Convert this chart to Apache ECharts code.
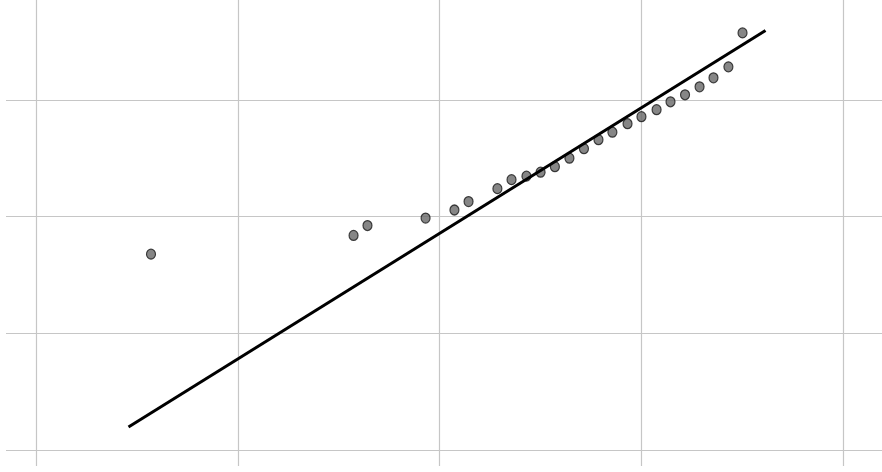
<!DOCTYPE html>
<html>
<head>
<meta charset="utf-8">
<script src="https://cdn.jsdelivr.net/npm/echarts@6/dist/echarts.min.js"></script>
<style>
  html, body { margin: 0; padding: 0; background: #fff; }
  #chart { width: 882px; height: 472px; }
</style>
</head>
<body>
<div id="chart"></div>
<script>
// Theoretical quantiles (x) and sample quantiles (y) for the probability plot
const theoretical = [-1.43, -0.426, -0.357, -0.069, 0.074, 0.144, 0.287, 0.357, 0.431, 0.501,
  0.572, 0.644, 0.716, 0.788, 0.857, 0.932, 1.001, 1.076, 1.145, 1.217, 1.289, 1.358, 1.432, 1.502];
const sample = [-0.322, -0.162, -0.077, -0.013, 0.056, 0.128, 0.239, 0.316, 0.346, 0.380,
  0.427, 0.500, 0.581, 0.658, 0.722, 0.795, 0.855, 0.915, 0.983, 1.043, 1.111, 1.188, 1.282, 1.573];

// Reference fit line endpoints
const fitX = [-1.5415, 1.616];
const fitY = [-1.803, 1.594];

// Visible axis window
const xRange = [-2.1487, 2.1933];
const yRange = [-2.1368, 1.8547];

const points = theoretical.map((x, i) => [x, sample[i]]);
const fitLine = fitX.map((x, i) => [x, fitY[i]]);

const gridLine = { show: true, showMinLine: false, showMaxLine: false,
  lineStyle: { color: '#c6c6c6', width: 1.2 } };

const chart = echarts.init(document.getElementById('chart'));
chart.setOption({
  animation: false,
  backgroundColor: '#ffffff',
  grid: { left: 6, right: 0, top: 0, bottom: 6 },
  xAxis: {
    type: 'value', min: xRange[0], max: xRange[1],
    axisLine: { show: false }, axisTick: { show: false }, axisLabel: { show: false },
    splitLine: gridLine
  },
  yAxis: {
    type: 'value', min: yRange[0], max: yRange[1],
    axisLine: { show: false }, axisTick: { show: false }, axisLabel: { show: false },
    splitLine: gridLine
  },
  series: [
    {
      type: 'scatter',
      data: points,
      symbol: 'circle',
      symbolSize: [9, 10],
      itemStyle: { color: '#686868', borderColor: '#161616', borderWidth: 1.2 },
      z: 2
    },
    {
      type: 'line',
      data: fitLine,
      showSymbol: false,
      symbol: 'none',
      lineStyle: { color: '#000000', width: 3 },
      z: 3
    }
  ]
});
</script>
</body>
</html>
